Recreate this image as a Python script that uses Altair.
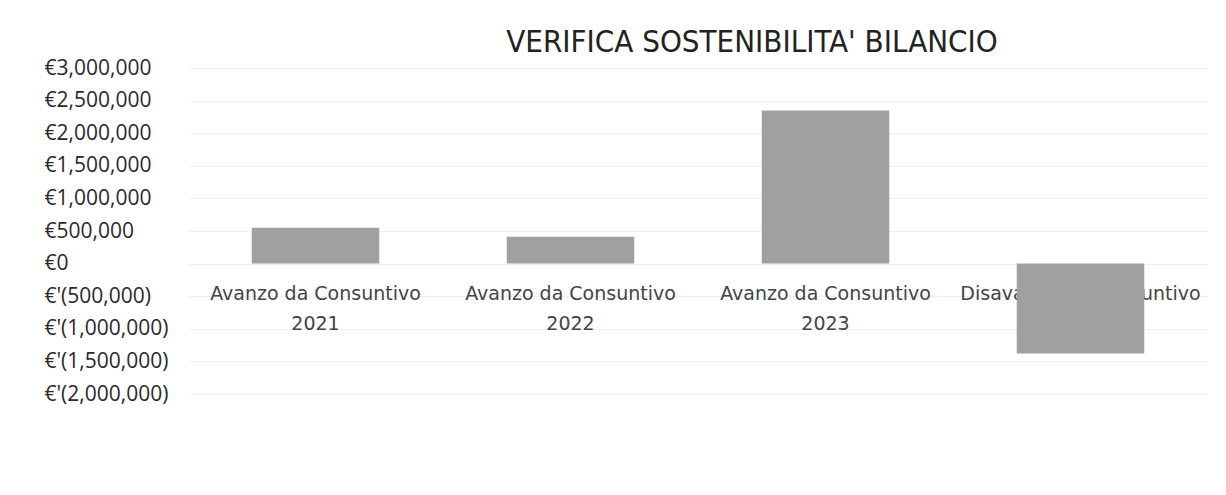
import altair as alt
import pandas as pd

categories = [
    "Avanzo da Consuntivo 2021",
    "Avanzo da Consuntivo 2022",
    "Avanzo da Consuntivo 2023",
    "Disavanzo da Consuntivo",
]
label_lines = [
    "Avanzo da Consuntivo|2021",
    "Avanzo da Consuntivo|2022",
    "Avanzo da Consuntivo|2023",
    "Disavanzo da Consuntivo",
]
values = [550000, 410000, 2350000, -1380000]
y_ticks = [3000000, 2500000, 2000000, 1500000, 1000000, 500000, 0,
           -500000, -1000000, -1500000, -2000000]

df = pd.DataFrame({"cat": categories, "label": label_lines, "value": values,
                   "zero": [0] * len(categories)})

x_enc = alt.X("cat:N", sort=categories, axis=None,
              scale=alt.Scale(paddingInner=0.5, paddingOuter=0.25))

label_expr = ("datum.value > 0 ? '€' + format(datum.value, ',') : "
              "(datum.value == 0 ? '€0' : \"€'(\" + format(-datum.value, ',') + ')')")

y_scale = alt.Scale(domain=[-2000000, 3000000], nice=False, zero=False)
y_axis = alt.Axis(
    values=y_ticks, labelExpr=label_expr, title=None, domain=False,
    ticks=False, labelAlign="left", labelPadding=144, labelFont="Open Sans",
    labelFontSize=21, labelColor="#2a2a2a", labelOverlap=False, grid=True,
    gridColor="#f0f0f0", gridWidth=1)

text_layer = alt.Chart(df).mark_text(
    baseline="top", align="center", dy=21, lineBreak="|", lineHeight=30,
    font="DejaVu Sans", fontSize=19, color="#444444"
).encode(
    x=x_enc,
    y=alt.Y("zero:Q", scale=y_scale, axis=y_axis),
    text="label:N",
)

bars = alt.Chart(df).mark_bar(color="#a0a0a0").encode(
    x=x_enc,
    y=alt.Y("value:Q", scale=y_scale, axis=y_axis),
)

chart = alt.layer(text_layer, bars).properties(
    width=1020, height=326,
    padding={"left": 180, "top": 60, "right": 10, "bottom": 90},
    autosize=alt.AutoSizeParams(type="none"),
    view=alt.ViewBackground(strokeOpacity=0, strokeWidth=0),
    title=alt.TitleParams("VERIFICA SOSTENIBILITA' BILANCIO",
                          font="'DejaVu Sans Condensed', 'DejaVu Sans', sans-serif",
                          fontSize=31, fontWeight="normal", color="#222222",
                          anchor="middle", dx=54, offset=-2),
).configure_view(stroke="transparent", strokeWidth=0).configure(background="white")

chart.save("out.html", embed_options={"renderer": "svg", "actions": False})
